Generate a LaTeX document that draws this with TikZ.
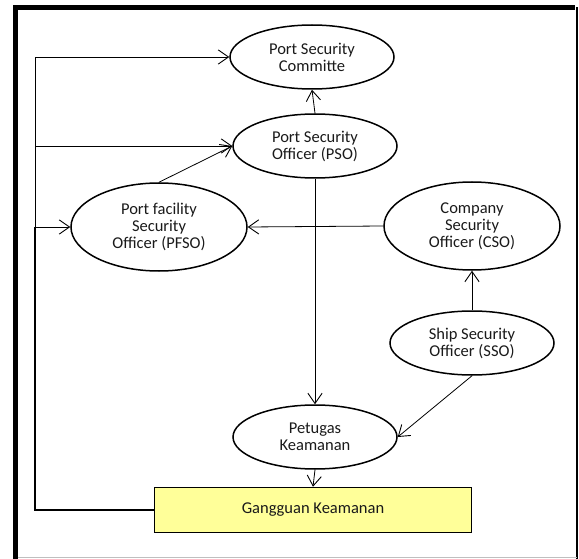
\documentclass[tikz,border=0pt]{standalone}
\usepackage{fontspec}
\setmainfont{Carlito}
\usetikzlibrary{arrows.meta,positioning,shapes.geometric}
\definecolor{GYellow}{HTML}{FFFF99}
\definecolor{GText}{HTML}{1A1A1A}

\begin{document}
\begin{tikzpicture}[
  x=1pt,y=-1pt,
  e/.style={draw,ellipse,line width=1.5pt,inner sep=0pt,align=center,
    font=\fontsize{16.5}{17}\selectfont,text=GText},
  es/.style={e,minimum width=164pt,minimum height=64pt},
  el/.style={e,minimum width=176pt,minimum height=88pt},
  g/.style={draw,line width=1.5pt,fill=GYellow,minimum width=317pt,
    minimum height=45pt,font=\fontsize{16.5}{17}\selectfont,text=GText},
  a/.style={-{Straight Barb[length=3.6mm,width=5mm,line width=0.9pt]},
    line width=0.8pt}
]
  \useasboundingbox (0,0) rectangle (579,559);
  % frame
  \draw[line width=5pt] (15.5,559) -- (15.5,7.5) -- (575,7.5);
  \draw[line width=1.2pt] (577,7.5) -- (577,559);
  \draw[black!25,line width=1pt] (18,557.5) -- (577,557.5);
  % nodes
  \node[es] (psc) at (312,57) {Port Security\\Committe};
  \node[es] (pso) at (315,146) {Port Security\\Officer (PSO)};
  \node[el] (pfso) at (159,227) {Port facility\\Security\\Officer (PFSO)};
  \node[el] (cso) at (472,226) {Company\\Security\\Officer (CSO)};
  \node[es] (sso) at (472,343) {Ship Security\\Officer (SSO)};
  \node[es] (pk) at (315,437) {Petugas\\Keamanan};
  \node[g] (gk) at (313,510) {Gangguan Keamanan};
  \coordinate (lb) at (35,510);
  \coordinate (lm) at (35,227);
  \coordinate (lp) at (35,146);
  \coordinate (lt) at (35,57);
  % feedback line
  \draw[line width=1.6pt] (gk.west) -- (lb) -- (lm);
  \draw[line width=0.8pt] (lm) -- (lt);
  \draw[a] (lt) -- (psc.west);
  \draw[a] (lp) -- (pso.west);
  \draw[a] (lm) -- (pfso.west);
  % connectors
  \draw[a] (pso.north) -- (psc.south);
  \draw[a] (pfso.north) -- (pso.west);
  \draw[a] (cso.west) -- (pfso.east);
  \draw[a] (pso.south) -- (pk.north);
  \draw[a] (sso.north) -- (cso.south);
  \draw[a] (sso.south) -- (pk.east);
  \draw[a] (pk.south) -- (gk.north);
\end{tikzpicture}
\end{document}
